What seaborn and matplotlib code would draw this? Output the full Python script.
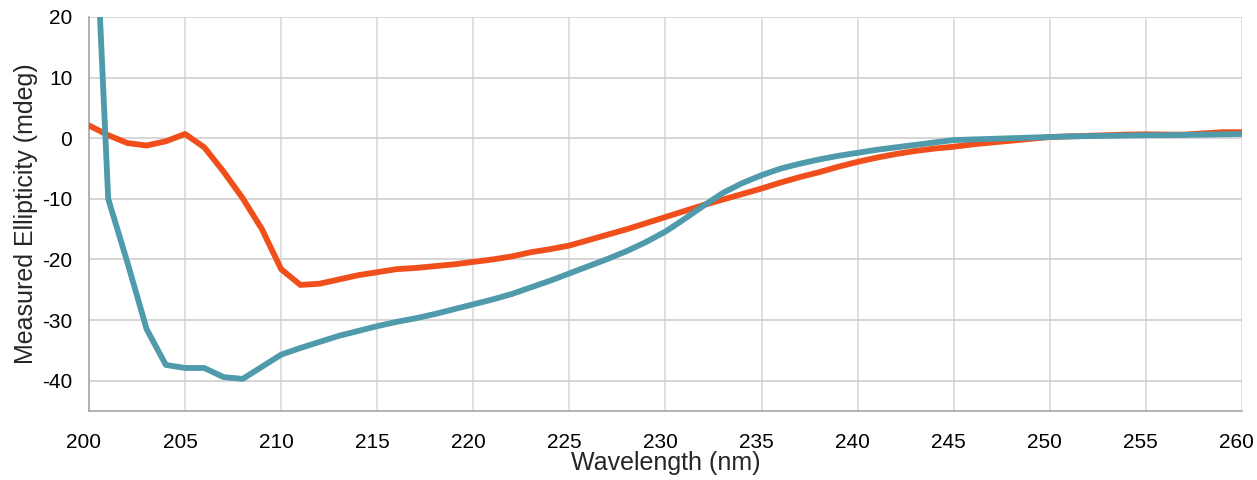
import numpy as np
import pandas as pd
import matplotlib
matplotlib.use("Agg")
import matplotlib.pyplot as plt
import matplotlib.transforms as mtransforms
import seaborn as sns
from matplotlib.ticker import MultipleLocator

wavelength = list(range(200, 261))

sample_a = [2.1, 0.5, -0.8, -1.2, -0.5, 0.7, -1.5, -5.5, -9.9, -15.0,
            -21.6, -24.2, -24.0, -23.3, -22.6, -22.1, -21.6, -21.4, -21.1, -20.8,
            -20.4, -20.0, -19.5, -18.8, -18.3, -17.7, -16.8, -15.9, -15.0, -14.0,
            -13.0, -12.0, -11.0, -10.1, -9.2, -8.3, -7.3, -6.4, -5.6, -4.7,
            -3.9, -3.2, -2.6, -2.1, -1.7, -1.4, -1.0, -0.7, -0.4, -0.1,
            0.2, 0.3, 0.4, 0.5, 0.6, 0.65, 0.6, 0.6, 0.8, 1.0, 1.0]

sample_b = [60.0, -10.0, -20.5, -31.5, -37.4, -37.9, -37.9, -39.4, -39.7, -37.7,
            -35.7, -34.6, -33.6, -32.6, -31.8, -31.0, -30.3, -29.7, -29.0, -28.2,
            -27.4, -26.6, -25.7, -24.6, -23.5, -22.3, -21.1, -19.9, -18.6, -17.1,
            -15.4, -13.3, -11.1, -9.0, -7.4, -6.1, -5.0, -4.2, -3.5, -2.9,
            -2.4, -1.9, -1.5, -1.1, -0.7, -0.3, -0.2, -0.1, 0.0, 0.1,
            0.2, 0.3, 0.35, 0.4, 0.45, 0.5, 0.5, 0.55, 0.6, 0.65, 0.7]

x_ticks = [200, 205, 210, 215, 220, 225, 230, 235, 240, 245, 250, 255, 260]
y_ticks = [20, 10, 0, -10, -20, -30, -40]

df = pd.DataFrame({
    "Wavelength": wavelength * 2,
    "Ellipticity": sample_a + sample_b,
    "Sample": ["A"] * len(wavelength) + ["B"] * len(wavelength),
})

sns.set_style("white")
plt.rcParams["font.family"] = ["Liberation Sans", "DejaVu Sans"]
plt.rcParams["axes.unicode_minus"] = False

fig = plt.figure(figsize=(12.57, 4.8), dpi=100)
ax = fig.add_axes([0.0708, 0.1437, 0.9172, 0.8209])

sns.lineplot(data=df, x="Wavelength", y="Ellipticity", hue="Sample",
             palette={"A": "#F04F1B", "B": "#4F9AAB"}, linewidth=4.2,
             legend=False, ax=ax, zorder=3)
ax.set_xlim(200, 260)
ax.set_ylim(-45, 20)
ax.set_xticks(x_ticks)
ax.set_yticks(y_ticks)
ax.xaxis.set_minor_locator(MultipleLocator(1.25))
ax.yaxis.set_minor_locator(MultipleLocator(2.5))
ax.tick_params(axis="both", which="major", labelsize=15, length=4, width=1,
               color="#A6A6A6", direction="out", labelcolor="black")
ax.tick_params(axis="both", which="minor", length=3, width=0.8,
               color="#A6A6A6", direction="out")
ax.tick_params(axis="x", which="major", pad=12)
ax.tick_params(axis="y", which="major", pad=8)
ax.grid(True, which="major", axis="x", color="#D9D9D9", linewidth=1.2, zorder=0)
ax.grid(True, which="major", axis="y", color="#CFCFCF", linewidth=1.2, zorder=0)
ax.set_axisbelow(True)
for s in ["top", "right"]:
    ax.spines[s].set_visible(False)
for s in ["left", "bottom"]:
    ax.spines[s].set_color("#A6A6A6")
    ax.spines[s].set_linewidth(1.2)

shift = mtransforms.ScaledTranslation(-5 / 100, 0, fig.dpi_scale_trans)
for lbl in ax.get_xticklabels():
    lbl.set_transform(lbl.get_transform() + shift)

ax.set_xlabel("Wavelength (nm)", fontsize=18, labelpad=-1)
ax.set_ylabel("Measured Ellipticity (mdeg)", fontsize=18, labelpad=3)

fig.savefig("out.png", dpi=100)
